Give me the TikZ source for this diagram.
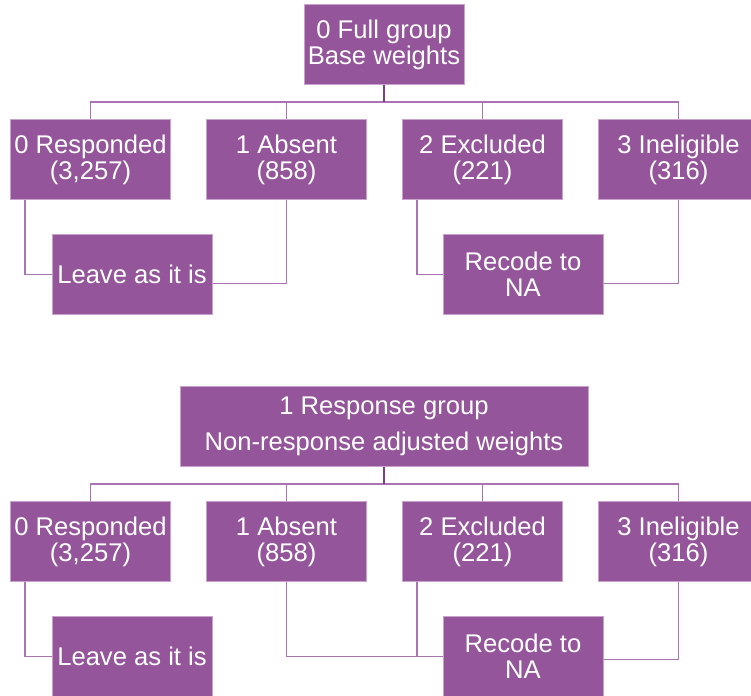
\documentclass[tikz,border=0pt]{standalone}
\usepackage{fontspec}
\setmainfont{Liberation Sans}
\usetikzlibrary{positioning}

\definecolor{boxpurple}{RGB}{148,85,155}
\definecolor{boxedge}{RGB}{200,162,205}
\definecolor{linkpurple}{RGB}{170,115,177}
\definecolor{stubpurple}{RGB}{125,60,135}

\begin{document}
\begin{tikzpicture}[
  x=1pt, y=-1pt,
  node distance=35pt,
  box/.style={draw=boxedge, line width=1pt, fill=boxpurple, text=white, minimum width=160pt, minimum height=80pt, inner sep=0pt, align=center, font=\fontsize{25.6}{26}\selectfont},
  widebox/.style={box, minimum width=408pt, font=\fontsize{25.6}{36.7}\selectfont},
  link/.style={draw=linkpurple, line width=1.5pt},
  stub/.style={draw=stubpurple, line width=2pt}
]
  \useasboundingbox (0,0) rectangle (751,695);

  % full group, base weights
  \node[box] (full) at (384,45) {0 Full group\\Base weights};
  \node[box] (fr0) at (90.5,159.5) {0 Responded\\(3,257)};
  \node[box, right=of fr0] (fr1) {1 Absent\\(858)};
  \node[box, right=of fr1] (fr2) {2 Excluded\\(221)};
  \node[box, right=of fr2] (fr3) {3 Ineligible\\(316)};
  \node[box, below=34pt of fr0, xshift=41.5pt] (fleave) {Leave as it is};
  \node[box, below=34pt of fr2, xshift=40.5pt] (frecode) {Recode to\\NA};

  \coordinate (fbus) at (384,102);
  \draw[link] (fr0.north) |- (fbus) -| (fr3.north);
  \foreach \c in {fr1,fr2}
    \draw[link] (\c.north) -- (\c.north |- fbus);
  \draw[stub] (full.south) -- (fbus);

  \draw[link] ([xshift=15pt]fr0.south west) |- (fleave.west);
  \draw[link] (fr1.south) |- ([yshift=-9pt]fleave.east);
  \draw[link] ([xshift=15pt]fr2.south west) |- (frecode.west);
  \draw[link] (fr3.south) |- ([yshift=-9pt]frecode.east);

  % response group, adjusted weights
  \node[widebox] (resp) at (384,426.3) {1 Response group\\Non-response adjusted weights};
  \node[box] (rr0) at (90.5,541.5) {0 Responded\\(3,257)};
  \node[box, right=of rr0] (rr1) {1 Absent\\(858)};
  \node[box, right=of rr1] (rr2) {2 Excluded\\(221)};
  \node[box, right=of rr2] (rr3) {3 Ineligible\\(316)};
  \node[box, below=34pt of rr0, xshift=41.5pt] (rleave) {Leave as it is};
  \node[box, below=34pt of rr2, xshift=40.5pt] (rrecode) {Recode to\\NA};

  \coordinate (rbus) at (384,484);
  \draw[link] (rr0.north) |- (rbus) -| (rr3.north);
  \foreach \c in {rr1,rr2}
    \draw[link] (\c.north) -- (\c.north |- rbus);
  \draw[stub] (resp.south) -- (rbus);

  \coordinate (rjoin) at ([xshift=15pt]rr2.south west |- rrecode.west);
  \draw[link] ([xshift=15pt]rr0.south west) |- (rleave.west);
  \draw[link] (rr1.south) |- (rjoin);
  \draw[link] ([xshift=15pt]rr2.south west) |- (rrecode.west);
  \draw[link] (rr3.south) |- ([yshift=-3pt]rrecode.east);
\end{tikzpicture}
\end{document}
